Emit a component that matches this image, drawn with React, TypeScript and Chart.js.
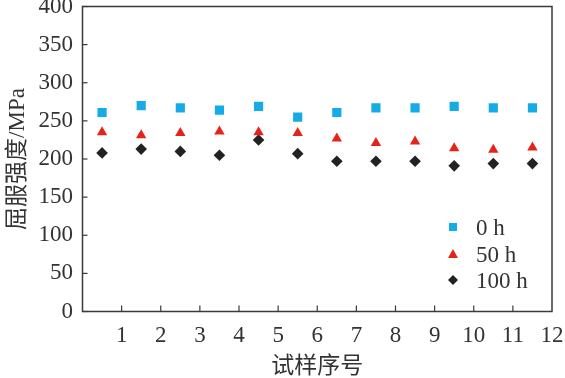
import React, { useEffect, useRef } from "react";
import { Chart, registerables } from "chart.js";

Chart.register(...registerables);

const sampleNumbers = [1, 2, 3, 4, 5, 6, 7, 8, 9, 10, 11, 12];
const series0h = [261, 270, 267, 264, 269, 255, 261, 267, 267, 269, 267, 267];
const series50h = [235, 231, 234, 236, 235, 234, 227, 221, 223, 214, 212, 215];
const series100h = [208, 213, 210, 205, 225, 207, 197, 197, 197, 191, 194, 194];
const seriesLabels = ["0 h", "50 h", "100 h"];
const yTitle = "屈服强度/MPa";
const xTitle = "试样序号";

const FONT = '"Liberation Serif", "Noto Sans CJK SC", serif';
const TEXT = "#333333";
const AXIS = "#3a3a3a";

const framePlugin = {
  id: "frameAndLegend",
  afterDraw(chart: any) {
    const { ctx, chartArea } = chart;
    const { left, right, top, bottom } = chartArea;
    ctx.save();
    ctx.strokeStyle = AXIS;
    ctx.lineWidth = 1.5;
    ctx.strokeRect(left, top, right - left, bottom - top);
    ctx.lineWidth = 1.2;
    const ys = chart.scales.y;
    ys.ticks.forEach((t: any) => {
      const py = ys.getPixelForValue(t.value);
      ctx.beginPath();
      ctx.moveTo(left, py);
      ctx.lineTo(left + 5, py);
      ctx.stroke();
    });
    const xs = chart.scales.x;
    xs.ticks.forEach((t: any) => {
      if (t.value <= 0 || t.value >= 12) return;
      const px = xs.getPixelForValue(t.value);
      ctx.beginPath();
      ctx.moveTo(px, bottom);
      ctx.lineTo(px, bottom - 6);
      ctx.stroke();
    });
    const rows = [227, 254, 280];
    const mx = 453;
    chart.data.datasets.forEach((ds: any, i: number) => {
      const y = rows[i];
      ctx.fillStyle = ds.backgroundColor;
      ctx.beginPath();
      if (ds.pointStyle === "rect") {
        ctx.rect(mx - 4, y - 4, 8, 8);
      } else if (ds.pointStyle === "triangle") {
        ctx.moveTo(mx, y - 5);
        ctx.lineTo(mx + 5, y + 4);
        ctx.lineTo(mx - 5, y + 4);
        ctx.closePath();
      } else {
        ctx.moveTo(mx, y - 5);
        ctx.lineTo(mx + 5, y);
        ctx.lineTo(mx, y + 5);
        ctx.lineTo(mx - 5, y);
        ctx.closePath();
      }
      ctx.fill();
      ctx.fillStyle = TEXT;
      ctx.font = `23px ${FONT}`;
      ctx.textAlign = "left";
      ctx.textBaseline = "middle";
      ctx.fillText(ds.label, 476, y + 2);
    });
    ctx.restore();
  },
};

export default function App() {
  const ref = useRef<HTMLCanvasElement>(null);
  useEffect(() => {
    if (!ref.current) return;
    const mk = (vals: number[]) => vals.map((v, i) => ({ x: sampleNumbers[i] - 0.5, y: v }));
    const chart = new Chart(ref.current, {
      type: "scatter",
      data: {
        datasets: [
          {
            label: seriesLabels[0],
            data: mk(series0h),
            pointStyle: "rect",
            pointRadius: 6.5,
            backgroundColor: "#14ABE6",
            borderColor: "#14ABE6",
            borderWidth: 0,
          },
          {
            label: seriesLabels[1],
            data: mk(series50h),
            pointStyle: "triangle",
            pointRadius: 6,
            backgroundColor: "#E5231B",
            borderColor: "#E5231B",
            borderWidth: 0,
          },
          {
            label: seriesLabels[2],
            data: mk(series100h),
            pointStyle: "rectRot",
            pointRadius: 5.8,
            backgroundColor: "#222222",
            borderColor: "#222222",
            borderWidth: 0,
          },
        ],
      } as any,
      options: {
        responsive: false,
        animation: false,
        layout: { padding: { top: 6.5, right: 13, left: 0, bottom: 0 } },
        plugins: { legend: { display: false }, tooltip: { enabled: false } },
        scales: {
          x: {
            type: "linear",
            min: 0,
            max: 12,
            grid: { display: false, drawTicks: false, tickLength: 0 },
            border: { display: false },
            ticks: {
              stepSize: 1,
              autoSkip: false,
              maxRotation: 0,
              padding: 11,
              color: TEXT,
              font: { family: FONT, size: 23 },
              callback: (v: any) => (v === 0 ? "" : String(v)),
            },
            title: {
              display: true,
              text: xTitle,
              color: TEXT,
              font: { family: FONT, size: 23 },
              padding: { top: 0, bottom: -3 },
            },
            afterFit: (s: any) => {
              s.height = 66.5;
              s.paddingLeft = 0;
              s.paddingRight = 0;
            },
          },
          y: {
            min: 0,
            max: 400,
            grid: { display: false, drawTicks: false, tickLength: 0 },
            border: { display: false },
            ticks: {
              stepSize: 50,
              padding: 9.5,
              color: TEXT,
              font: { family: FONT, size: 23 },
            },
            title: {
              display: true,
              text: yTitle,
              color: TEXT,
              font: { family: FONT, size: 23 },
              padding: { top: 4, bottom: 0 },
            },
            afterFit: (s: any) => {
              s.width = 82.5;
              s.paddingTop = 0;
              s.paddingBottom = 0;
            },
          },
        },
      } as any,
      plugins: [framePlugin],
    });
    return () => chart.destroy();
  }, []);
  return (
    <div style={{ position: "fixed", left: 0, top: 0, width: 565, height: 378, background: "#fff" }}>
      <canvas ref={ref} width={565} height={378} />
    </div>
  );
}
